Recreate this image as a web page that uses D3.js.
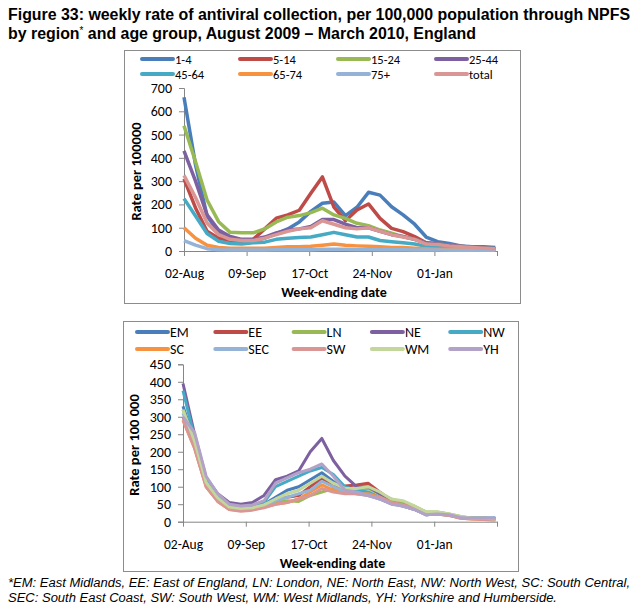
<!DOCTYPE html>
<html>
<head>
<meta charset="utf-8">
<script src="https://cdn.jsdelivr.net/npm/d3@7"></script>
<style>
  body { margin: 0; background: #fff; }
  text { font-family: Carlito, Lato, "Liberation Sans", sans-serif; }
  .title { font-family: "Liberation Sans Narrow", "Arial Narrow", "Liberation Sans", sans-serif; font-weight: bold; }
  .note { font-family: "Liberation Sans Narrow", "Arial Narrow", "Liberation Sans", sans-serif; font-style: italic; }
</style>
</head>
<body>
<svg id="svg"></svg>
<script>
var width = 642;
var height = 615;

// week-ending dates
var weeks = ["2009-08-02", "2009-08-09", "2009-08-16", "2009-08-23", "2009-08-30",
  "2009-09-06", "2009-09-13", "2009-09-20", "2009-09-27",
  "2009-10-04", "2009-10-11", "2009-10-18", "2009-10-25",
  "2009-11-01", "2009-11-08", "2009-11-15", "2009-11-22", "2009-11-29",
  "2009-12-06", "2009-12-13", "2009-12-20", "2009-12-27",
  "2010-01-03", "2010-01-10", "2010-01-17", "2010-01-24", "2010-01-31",
  "2010-02-07"];

var xTicks = ["2009-08-02", "2009-09-09", "2009-10-17", "2009-11-24", "2010-01-01", "2010-02-08"];

// age groups (top chart)
var ageNames = ["1-4", "5-14", "15-24", "25-44", "45-64", "65-74", "75+", "total"];
var age1to4   = [660, 370, 150, 80, 52, 42, 45, 55, 75, 95, 125, 170, 205, 210, 152, 188, 252, 240, 190, 155, 115, 60, 40, 32, 22, 18, 18, 15];
var age5to14  = [310, 185, 85, 55, 45, 42, 50, 95, 141, 155, 175, 248, 318, 188, 130, 176, 202, 140, 97, 83, 62, 35, 30, 25, 20, 15, 12, 10];
var age15to24 = [538, 383, 219, 126, 80, 78, 78, 95, 125, 145, 152, 165, 184, 155, 140, 119, 109, 90, 76, 62, 50, 35, 30, 25, 20, 15, 12, 10];
var age25to44 = [430, 300, 155, 90, 62, 50, 50, 60, 78, 90, 95, 105, 135, 135, 115, 100, 100, 85, 70, 62, 50, 35, 30, 25, 20, 15, 12, 10];
var age45to64 = [225, 150, 75, 42, 32, 30, 35, 38, 50, 55, 58, 60, 70, 80, 70, 60, 60, 45, 40, 35, 30, 20, 18, 15, 12, 10, 8, 7];
var age65to74 = [100, 55, 25, 15, 12, 12, 12, 12, 15, 18, 18, 20, 25, 30, 25, 22, 20, 18, 15, 15, 12, 10, 8, 7, 6, 5, 5, 5];
var age75plus = [45, 25, 10, 5, 4, 4, 4, 4, 5, 5, 5, 5, 7, 8, 7, 6, 6, 5, 5, 5, 4, 4, 4, 3, 3, 3, 3, 3];
var ageTotal  = [325, 230, 120, 70, 50, 45, 45, 55, 70, 85, 95, 100, 130, 115, 100, 95, 100, 85, 70, 60, 50, 30, 28, 22, 18, 15, 12, 10];

// regions (bottom chart)
var regionNames = ["EM", "EE", "LN", "NE", "NW", "SC", "SEC", "SW", "WM", "YH"];
var regEM  = [330, 230, 115, 70, 45, 40, 42, 50, 70, 90, 100, 120, 140, 115, 90, 90, 80, 65, 52, 45, 35, 20, 22, 20, 12, 10, 10, 10];
var regEE  = [300, 215, 105, 62, 40, 35, 38, 45, 62, 70, 75, 100, 125, 100, 102, 105, 110, 85, 62, 55, 40, 22, 25, 20, 12, 10, 10, 8];
var regLN  = [320, 225, 110, 65, 40, 35, 38, 42, 55, 60, 58, 75, 85, 95, 90, 90, 95, 80, 65, 55, 45, 28, 28, 22, 15, 10, 10, 8];
var regNE  = [395, 250, 125, 80, 55, 50, 55, 75, 120, 130, 145, 200, 238, 175, 130, 100, 100, 80, 55, 48, 38, 20, 22, 20, 12, 10, 10, 10];
var regNW  = [375, 240, 120, 72, 48, 42, 45, 55, 100, 115, 130, 145, 155, 135, 100, 90, 85, 70, 55, 48, 38, 22, 22, 20, 12, 10, 10, 10];
var regSC  = [290, 210, 100, 58, 35, 32, 35, 42, 50, 55, 65, 85, 105, 90, 85, 80, 80, 70, 55, 48, 38, 22, 22, 18, 10, 8, 6, 5];
var regSEC = [310, 220, 110, 62, 38, 35, 38, 45, 60, 70, 80, 90, 115, 100, 85, 80, 75, 65, 52, 45, 35, 20, 22, 18, 12, 10, 10, 8];
var regSW  = [290, 210, 100, 58, 35, 30, 33, 40, 50, 55, 65, 75, 95, 85, 80, 80, 75, 70, 55, 48, 38, 22, 22, 18, 10, 8, 6, 5];
var regWM  = [320, 230, 112, 68, 42, 38, 40, 48, 65, 80, 90, 110, 130, 110, 95, 95, 100, 85, 65, 60, 45, 28, 28, 22, 15, 10, 10, 8];
var regYH  = [300, 255, 130, 80, 50, 45, 48, 60, 110, 125, 140, 150, 165, 130, 90, 85, 75, 65, 50, 45, 35, 20, 22, 20, 12, 10, 10, 10];

var ageColors = ["#4a7ebb", "#be4b48", "#98b954", "#7d60a0", "#46aac5", "#f69240", "#95b3d7", "#d99694"];
var regionColors = ["#4a7ebb", "#be4b48", "#98b954", "#7d60a0", "#46aac5", "#f69240", "#95b3d7", "#d99694", "#c3d69b", "#b3a2c7"];

var parse = d3.timeParse("%Y-%m-%d");
var fmt = d3.timeFormat("%d-%b");
var dates = weeks.map(parse);

var svg = d3.select("#svg")
    .attr("width", width)
    .attr("height", height)
    .attr("viewBox", [0, 0, width, height]);

// squeeze a pair of lines by the same factor so that the first one gets the wanted width
function squeeze(first, second, target) {
  var k = target / first.node().getComputedTextLength();
  [first, second].forEach(function (t) {
    var w = t.node().getComputedTextLength();
    t.attr("textLength", w * k).attr("lengthAdjust", "spacingAndGlyphs");
  });
}

// title
var t1 = svg.append("text").attr("class", "title")
    .attr("x", 8).attr("y", 20).attr("font-size", 16)
    .text("Figure 33: weekly rate of antiviral collection, per 100,000 population through NPFS");
var t2 = svg.append("text").attr("class", "title")
    .attr("x", 8).attr("y", 39).attr("font-size", 16);
t2.append("tspan").text("by region");
t2.append("tspan").attr("font-size", 10).attr("dy", -5).attr("font-weight", "normal").text("*");
t2.append("tspan").attr("dy", 5).text(" and age group, August 2009 \u2013 March 2010, England");
squeeze(t1, t2, 622);

function drawChart(opt) {
  var g = svg.append("g");

  g.append("rect")
      .attr("x", opt.box[0] + 0.5).attr("y", opt.box[1] + 0.5)
      .attr("width", opt.box[2] - opt.box[0]).attr("height", opt.box[3] - opt.box[1])
      .attr("fill", "none").attr("stroke", "#8c8c8c");

  var x = d3.scaleTime()
      .domain([parse(xTicks[0]), parse(xTicks[xTicks.length - 1])])
      .range([opt.left, opt.right]);
  var y = d3.scaleLinear().domain([0, opt.yMax]).range([opt.bottom, opt.top]);

  // y axis
  var yAxis = g.append("g")
      .attr("transform", "translate(" + opt.left + ",0)")
      .call(d3.axisLeft(y).tickValues(d3.range(0, opt.yMax + 1, opt.yStep)).tickSize(5).tickPadding(7));
  yAxis.select(".domain").attr("stroke", "#868686");
  yAxis.selectAll(".tick line").attr("stroke", "#868686");
  yAxis.selectAll(".tick text").attr("font-size", 14).attr("fill", "#000")
      .style("font-family", "Carlito, Lato, sans-serif");

  // x axis
  var xAxis = g.append("g")
      .attr("transform", "translate(0," + opt.bottom + ")")
      .call(d3.axisBottom(x).tickValues(xTicks.map(parse)).tickSize(5).tickSizeOuter(0)
        .tickFormat(function (d, i) { return i < xTicks.length - 1 ? fmt(d) : ""; }));
  xAxis.select(".domain").attr("stroke", "#868686");
  xAxis.selectAll(".tick line").attr("stroke", "#868686");
  xAxis.selectAll(".tick text").attr("font-size", 13.5).attr("fill", "#000")
      .attr("y", 17.5).style("font-family", "Carlito, Lato, sans-serif");

  // axis titles
  g.append("text")
      .attr("x", (opt.box[0] + opt.box[2]) / 2 + 12).attr("y", opt.bottom + 46)
      .attr("text-anchor", "middle").attr("font-size", 14).attr("font-weight", "bold")
      .text("Week-ending date");
  g.append("text")
      .attr("transform", "translate(" + opt.yTitleX + "," + ((opt.top + opt.bottom) / 2 + 2) + ") rotate(-90)")
      .attr("text-anchor", "middle").attr("font-size", 14.5).attr("font-weight", "bold")
      .text(opt.yTitle);

  // lines
  var line = d3.line()
      .x(function (d, i) { return x(dates[i]); })
      .y(function (d) { return y(d); });

  g.append("g").selectAll("path")
    .data(opt.series)
    .join("path")
      .attr("d", function (d) { return line(d); })
      .attr("fill", "none")
      .attr("stroke", function (d, i) { return opt.colors[i]; })
      .attr("stroke-width", opt.lineWidth)
      .attr("stroke-linejoin", "round");

  // legend
  var leg = g.append("g").selectAll("g")
    .data(opt.names)
    .join("g")
      .attr("transform", function (d, i) {
        var c = i % opt.legCols, r = Math.floor(i / opt.legCols);
        return "translate(" + (opt.legX + c * opt.legDx) + "," + (opt.legY + r * opt.legDy) + ")";
      });
  leg.append("line")
      .attr("x1", 0).attr("x2", opt.legLen).attr("y1", 0).attr("y2", 0)
      .attr("stroke", function (d, i) { return opt.colors[i]; })
      .attr("stroke-width", 4).attr("stroke-linecap", "round");
  leg.append("text")
      .attr("x", opt.legLen + 2).attr("y", 4.5)
      .attr("font-size", opt.legFont)
      .text(function (d) { return d; });
}

drawChart({
  box: [124, 50, 520, 303],
  left: 184, right: 497, top: 88, bottom: 251,
  yMax: 700, yStep: 100,
  yTitle: "Rate per 100000", yTitleX: 141,
  series: [age1to4, age5to14, age15to24, age25to44, age45to64, age65to74, age75plus, ageTotal],
  names: ageNames, colors: ageColors, lineWidth: 3.5,
  legX: 142, legY: 59, legDx: 98, legDy: 15, legCols: 4, legLen: 31, legFont: 12.5
});

drawChart({
  box: [123, 321, 518, 571],
  left: 183, right: 497, top: 364.3, bottom: 521.7,
  yMax: 450, yStep: 50,
  yTitle: "Rate per 100 000", yTitleX: 139,
  series: [regEM, regEE, regLN, regNE, regNW, regSC, regSEC, regSW, regWM, regYH],
  names: regionNames, colors: regionColors, lineWidth: 3,
  legX: 137, legY: 332, legDx: 78.3, legDy: 17, legCols: 5, legLen: 31, legFont: 14
});

// footnote
var n1 = svg.append("text").attr("class", "note")
    .attr("x", 8).attr("y", 587).attr("font-size", 12.5)
    .text("*EM: East Midlands, EE: East of England, LN: London, NE: North East, NW: North West, SC: South Central,");
var n2 = svg.append("text").attr("class", "note")
    .attr("x", 8).attr("y", 602).attr("font-size", 12.5)
    .text("SEC: South East Coast, SW: South West, WM: West Midlands, YH: Yorkshire and Humberside.");
squeeze(n1, n2, 622);
</script>
</body>
</html>
